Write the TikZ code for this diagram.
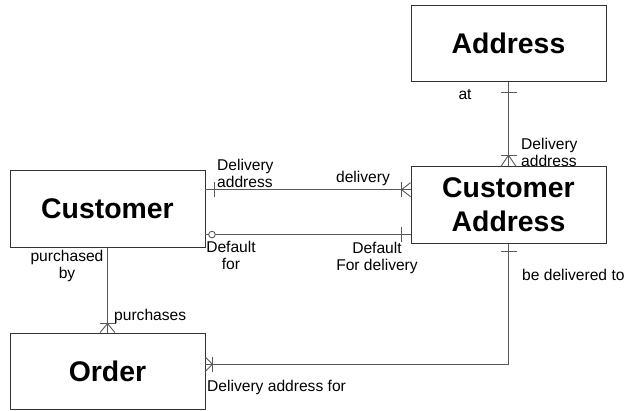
\documentclass[tikz,border=0pt]{standalone}
\usepackage{fontspec}
\setmainfont{Liberation Sans}
\usetikzlibrary{calc}
\begin{document}
\begin{tikzpicture}[x=1pt,y=-1pt,
  entity/.style={draw=black!80,line width=0.9pt,minimum width=195pt,minimum height=76.5pt,inner sep=0pt,
    font=\fontsize{28.4}{33}\selectfont\bfseries,align=center},
  conn/.style={draw=black!65,line width=0.9pt},
  lbl/.style={font=\fontsize{15.6}{17}\selectfont,inner sep=0pt,align=center},
  lbll/.style={font=\fontsize{15.6}{17}\selectfont,inner sep=0pt,align=left,anchor=west}]
\useasboundingbox (0,0) rectangle (626,410);
% entities
\node[entity] (addr) at (508.5,43.5) {Address};
\node[entity] (ca) at (508.5,205) {Customer\\[1pt]Address};
\node[entity] (cust) at (107.5,209) {Customer};
\node[entity] (order) at (107.5,371.25) {Order};
% helper points
\coordinate (c1) at ($(cust.north east)!0.25!(cust.south east)$);
\coordinate (c2) at ($(cust.north east)!0.83!(cust.south east)$);
\coordinate (oe) at ($(order.north east)!0.41!(order.south east)$);
% Address -- Customer Address
\draw[conn] (addr.south) -- (ca.north);
\draw[conn] ($(addr.south)+(-8,10)$) -- ($(addr.south)+(8,10)$);
\draw[conn] ($(ca.north)+(-8,-11)$) -- ($(ca.north)+(8,-11)$);
\draw[conn] ($(ca.north)+(-7.5,0)$) -- ($(ca.north)+(0,-11)$) -- ($(ca.north)+(7.5,0)$);
% Customer -- Customer Address (delivery)
\draw[conn] (c1) -- (c1 -| ca.west);
\draw[conn] ($(c1)+(9,-7.5)$) -- ($(c1)+(9,7.5)$);
\draw[conn] ($(c1 -| ca.west)+(-9,-7.5)$) -- ($(c1 -| ca.west)+(-9,7.5)$);
\draw[conn] ($(c1 -| ca.west)+(0,-7)$) -- ($(c1 -| ca.west)+(-9,0)$) -- ($(c1 -| ca.west)+(0,7)$);
% Customer -- Customer Address (default)
\draw[conn] (c2) -- (c2 -| ca.west);
\draw[conn,fill=white] ($(c2)+(6.5,0)$) circle (3.3);
\draw[conn] ($(c2 -| ca.west)+(-9,-7.5)$) -- ($(c2 -| ca.west)+(-9,7.5)$);
% Customer -- Order
\draw[conn] (cust.south) -- (order.north);
\draw[conn] ($(order.north)+(-8,-9)$) -- ($(order.north)+(8,-9)$);
\draw[conn] ($(order.north)+(-7.5,0)$) -- ($(order.north)+(0,-9)$) -- ($(order.north)+(7.5,0)$);
% Customer Address -- Order
\draw[conn] (ca.south) |- (oe);
\draw[conn] ($(ca.south)+(-8,8)$) -- ($(ca.south)+(8,8)$);
\draw[conn] ($(oe)+(7,-7.5)$) -- ($(oe)+(7,7.5)$);
\draw[conn] ($(oe)+(0,-7)$) -- ($(oe)+(7,0)$) -- ($(oe)+(0,7)$);
% labels
\node[lbl] (l1) at (465,95) {at};
\node[lbll] (l2) at (521,152) {Delivery\\address};
\node[lbll] (l3) at (217,173) {Delivery\\address};
\node[lbl] (l4) at (363,178) {delivery};
\node[lbl] (l5) at (231,255) {Default\\for};
\node[lbl] (l6) at (377,258) {Default\\For delivery};
\node[lbll] (l7) at (522,275) {be delivered to};
\node[lbl] (l8) at (67,266) {purchased\\by};
\node[lbll] (l9) at (114,316) {purchases};
\node[lbll] (l10) at (207,387) {Delivery address for};
\end{tikzpicture}
\end{document}
